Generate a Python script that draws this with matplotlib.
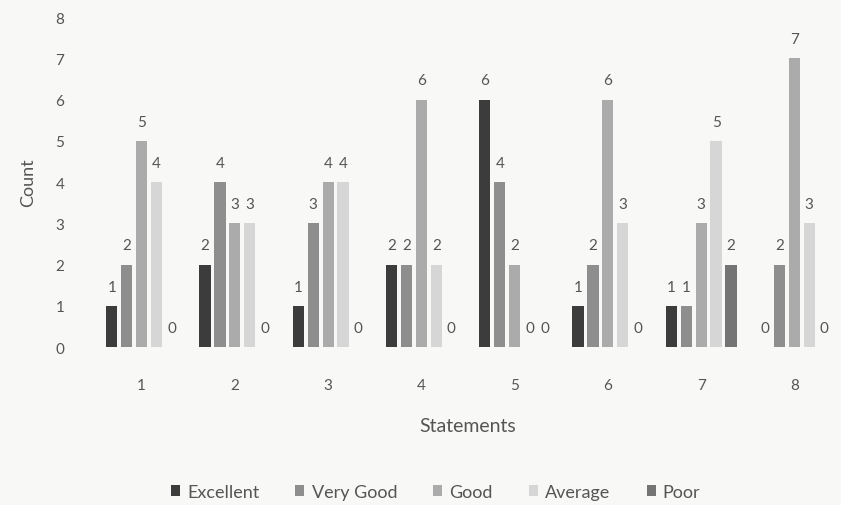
import numpy as np
import matplotlib.pyplot as plt

plt.rcParams["font.family"] = ["Lato", "DejaVu Sans"]

statements = ["1", "2", "3", "4", "5", "6", "7", "8"]
ratings = ["Excellent", "Very Good", "Good", "Average", "Poor"]
excellent = [1, 2, 1, 2, 6, 1, 1, 0]
very_good = [2, 4, 3, 2, 4, 2, 1, 2]
good = [5, 3, 4, 6, 2, 6, 3, 7]
average = [4, 3, 4, 2, 0, 3, 5, 3]
poor = [0, 0, 0, 0, 0, 0, 2, 0]

series = [excellent, very_good, good, average, poor]
colors = ["#3c3c3c", "#8e8e8e", "#ababab", "#d6d6d6", "#747474"]
bg = "#f8f8f6"
txt = "#555555"

fig = plt.figure(figsize=(8.41, 5.06), dpi=100, facecolor=bg)
ax = fig.add_axes([0.113, 0.312, 0.887, 0.652], facecolor=bg)

x = np.arange(1, len(statements) + 1)
pitch = 0.16
width = 0.12
for i, (vals, name, c) in enumerate(zip(series, ratings, colors)):
    pos = x + (i - 2) * pitch
    bars = ax.bar(pos, vals, width=width, color=c, label=name)
    for b, v in zip(bars, vals):
        ax.text(b.get_x() + b.get_width() / 2, v + 0.3, str(v),
                ha="center", va="bottom", fontsize=11, color=txt)

ax.set_xlim(0.5, 8.5)
ax.set_ylim(0, 8)
ax.set_yticks(range(0, 9))
ax.set_xticks(x)
ax.set_xticklabels(statements)
ax.tick_params(length=0, colors=txt, labelsize=11)
ax.tick_params(axis="y", pad=22)
ax.tick_params(axis="x", pad=22)
for s in ax.spines.values():
    s.set_visible(False)

ax.set_ylabel("Count", color=txt, fontsize=13, labelpad=14)
ax.set_xlabel("Statements", color=txt, fontsize=14, labelpad=18)

fig.legend(loc="lower center", bbox_to_anchor=(0.518, -0.022), ncol=5, frameon=False,
           fontsize=13, labelcolor=txt, handlelength=0.5, handleheight=0.5,
           handletextpad=0.4, columnspacing=2.0)

fig.savefig("out.png", dpi=100, facecolor=bg)
